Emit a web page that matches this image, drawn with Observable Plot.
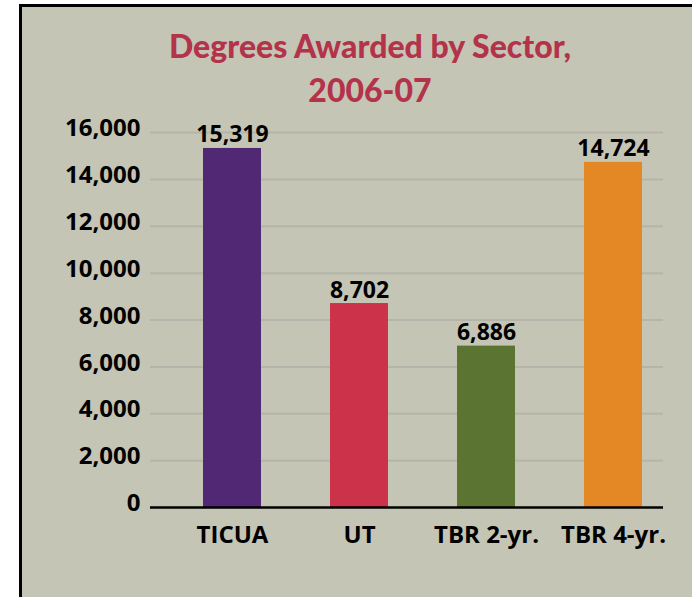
<!DOCTYPE html>
<html>
<head>
<meta charset="utf-8">
<script src="https://cdn.jsdelivr.net/npm/d3@7"></script>
<script src="https://cdn.jsdelivr.net/npm/@observablehq/plot@0.6"></script>
<style>
  html, body { margin: 0; padding: 0; background: #ffffff; overflow: hidden; }
  #panel { position: absolute; left: 19px; top: 4px; width: 673px; height: 593px; background: #c5c5b5; border-left: 3px solid #000; border-top: 3px solid #000; box-sizing: border-box; }
  #title { position: absolute; left: 50px; width: 640px; top: 24px; text-align: center; font-family: Lato, sans-serif; font-weight: 900; font-size: 32px; line-height: 44px; color: #b3334b; }
  #chart { position: absolute; left: 0; top: 105px; }
</style>
</head>
<body>
<div id="panel"></div>
<div id="title">Degrees Awarded by Sector,<br>2006-07</div>
<div id="chart"></div>
<script>
const sectors = ["TICUA", "UT", "TBR 2-yr.", "TBR 4-yr."];
const degrees = [15319, 8702, 6886, 14724];
const barColors = ["#512873", "#cc3249", "#5b7432", "#e48825"];
const yTicks = [0, 2000, 4000, 6000, 8000, 10000, 12000, 14000, 16000];

const data = sectors.map((s, i) => ({sector: s, value: degrees[i]}));
const fmt = d3.format(",");

const chart = Plot.plot({
  width: 692,
  height: 460,
  marginLeft: 150,
  marginRight: 29,
  marginTop: 27,
  marginBottom: 58,
  style: {background: "transparent", fontFamily: "'Open Sans', sans-serif", color: "#000"},
  x: {domain: sectors, paddingInner: 0.546, paddingOuter: 0.282, align: 0.708, label: null},
  y: {domain: [0, 16000], label: null},
  color: {domain: sectors, range: barColors},
  marks: [
    Plot.gridY(yTicks.filter(d => d > 0), {stroke: "#b4b4aa", strokeWidth: 2, strokeOpacity: 1}),
    Plot.axisY(yTicks, {tickSize: 0, tickPadding: 10, tickFormat: fmt, fontSize: 24, fontWeight: "bold", dy: -4, label: null}),
    Plot.axisX({tickSize: 0, tickPadding: 18, fontSize: 24, fontWeight: "bold", label: null}),
    Plot.barY(data, {x: "sector", y: "value", fill: "sector"}),
    Plot.ruleY([0], {stroke: "#000", strokeWidth: 2.5}),
    Plot.text(data, {x: "sector", y: "value", text: d => fmt(d.value), lineAnchor: "bottom", dy: -6, fontSize: 23, fontWeight: "bold", fill: "#000"})
  ]
});
document.getElementById("chart").appendChild(chart);
</script>
</body>
</html>
